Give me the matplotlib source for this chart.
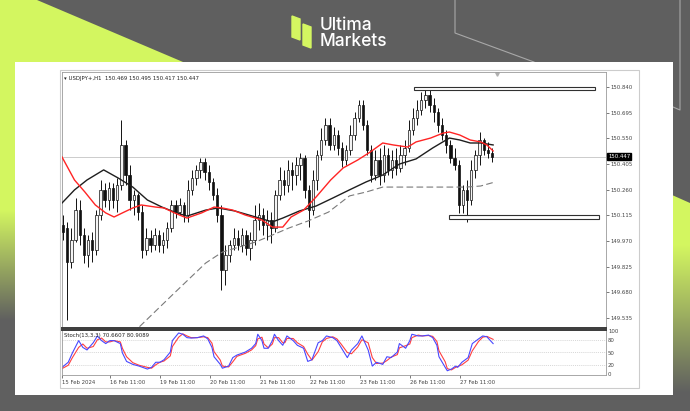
import numpy as np
import matplotlib
matplotlib.use("Agg")
import matplotlib.pyplot as plt
import matplotlib.transforms as mtrans
from matplotlib.patches import Polygon, Rectangle

opens = [150.061, 150.044, 149.852, 149.976, 150.145, 150.004, 149.891, 149.976, 149.919, 150.117,
         150.259, 150.202, 150.270, 150.202, 150.287, 150.513, 150.343, 150.202, 150.230, 150.134,
         149.919, 149.987, 149.948, 150.004, 149.948, 149.976, 150.044, 150.174, 150.134, 150.174,
         150.117, 150.259, 150.326, 150.372, 150.417, 150.360, 150.304, 150.230, 150.117, 149.806,
         149.891, 149.948, 149.987, 149.948, 150.004, 149.931, 149.976, 150.089, 150.117, 150.061,
         150.089, 150.044, 150.230, 150.315, 150.287, 150.372, 150.343, 150.400, 150.439, 150.259,
         150.145, 150.315, 150.456, 150.541, 150.626, 150.513, 150.569, 150.496, 150.428, 150.484,
         150.569, 150.665, 150.739, 150.626, 150.484, 150.343, 150.428, 150.343, 150.456, 150.372,
         150.428, 150.383, 150.456, 150.496, 150.597, 150.665, 150.711, 150.767, 150.795, 150.739,
         150.699, 150.626, 150.569, 150.513, 150.439, 150.400, 150.174, 150.259, 150.202, 150.372,
         150.456, 150.541, 150.484, 150.469]
highs = [150.117, 150.078, 150.044, 150.213, 150.202, 150.044, 150.004, 150.021, 150.145, 150.315,
         150.298, 150.304, 150.298, 150.326, 150.654, 150.541, 150.400, 150.259, 150.242, 150.174,
         150.044, 150.032, 150.044, 150.032, 150.021, 150.078, 150.202, 150.202, 150.213, 150.191,
         150.315, 150.372, 150.400, 150.439, 150.439, 150.400, 150.326, 150.270, 150.174, 149.948,
         149.976, 150.044, 150.032, 150.044, 150.032, 150.021, 150.174, 150.185, 150.157, 150.145,
         150.134, 150.259, 150.389, 150.372, 150.428, 150.417, 150.445, 150.467, 150.456, 150.287,
         150.372, 150.484, 150.609, 150.665, 150.665, 150.614, 150.597, 150.530, 150.513, 150.626,
         150.699, 150.767, 150.767, 150.654, 150.513, 150.484, 150.496, 150.513, 150.496, 150.484,
         150.496, 150.513, 150.541, 150.654, 150.722, 150.767, 150.812, 150.840, 150.824, 150.778,
         150.722, 150.665, 150.597, 150.541, 150.496, 150.428, 150.287, 150.315, 150.428, 150.484,
         150.586, 150.552, 150.530, 150.495]
lows = [149.976, 149.524, 149.818, 149.965, 149.948, 149.846, 149.823, 149.852, 149.891, 150.089,
        150.162, 150.145, 150.157, 150.134, 150.259, 150.287, 150.145, 150.117, 150.089, 149.874,
        149.891, 149.908, 149.919, 149.908, 149.902, 149.931, 150.021, 150.100, 150.117, 150.078,
        150.078, 150.230, 150.287, 150.326, 150.315, 150.259, 150.202, 150.078, 149.693, 149.722,
        149.852, 149.919, 149.919, 149.908, 149.891, 149.863, 149.948, 150.032, 150.004, 149.976,
        149.959, 150.021, 150.202, 150.230, 150.247, 150.259, 150.287, 150.315, 150.213, 150.049,
        150.117, 150.259, 150.428, 150.513, 150.484, 150.484, 150.456, 150.389, 150.400, 150.456,
        150.541, 150.643, 150.597, 150.456, 150.304, 150.315, 150.287, 150.304, 150.343, 150.326,
        150.343, 150.360, 150.400, 150.473, 150.569, 150.626, 150.682, 150.722, 150.699, 150.643,
        150.586, 150.541, 150.467, 150.411, 150.372, 150.129, 150.129, 150.078, 150.174, 150.326,
        150.400, 150.456, 150.439, 150.417]
closes = [150.021, 149.852, 149.976, 150.145, 150.004, 149.891, 149.976, 149.919, 150.117, 150.259,
          150.202, 150.270, 150.202, 150.287, 150.513, 150.343, 150.202, 150.230, 150.134, 149.919,
          149.987, 149.948, 150.004, 149.948, 149.976, 150.044, 150.174, 150.134, 150.174, 150.117,
          150.259, 150.326, 150.372, 150.417, 150.360, 150.304, 150.230, 150.117, 149.806, 149.891,
          149.948, 149.987, 149.948, 150.004, 149.931, 149.976, 150.089, 150.117, 150.061, 150.089,
          150.044, 150.230, 150.315, 150.287, 150.372, 150.343, 150.400, 150.439, 150.259, 150.145,
          150.315, 150.456, 150.541, 150.626, 150.513, 150.569, 150.496, 150.428, 150.484, 150.569,
          150.665, 150.739, 150.626, 150.484, 150.343, 150.428, 150.343, 150.456, 150.372, 150.428,
          150.383, 150.456, 150.496, 150.597, 150.665, 150.711, 150.767, 150.795, 150.739, 150.699,
          150.626, 150.569, 150.513, 150.439, 150.400, 150.174, 150.259, 150.202, 150.372, 150.456,
          150.541, 150.484, 150.469, 150.447]

# moving averages (bar hour, price)
ma_fast_h = [0, 6, 11, 16, 21, 25, 29, 34, 38, 45, 49, 54, 60, 67, 73, 77, 82, 88, 96, 101,
             106, 110, 116, 122, 129, 135, 142, 148, 154, 159, 166, 170, 177, 183, 186, 191, 196, 201, 204, 207]
ma_fast = [150.445, 150.315, 150.247, 150.174, 150.129, 150.106, 150.129, 150.157, 150.174, 150.162,
           150.157, 150.129, 150.100, 150.129, 150.162, 150.157, 150.145, 150.117, 150.089, 150.049,
           150.049, 150.106, 150.145, 150.219, 150.315, 150.383, 150.428, 150.473, 150.524, 150.513,
           150.501, 150.530, 150.552, 150.580, 150.586, 150.569, 150.541, 150.530, 150.513, 150.479]
ma_mid_h = [0, 6, 12, 20, 27, 34, 41, 48, 54, 60, 69, 75, 83, 93, 101, 106, 114, 122, 130, 138,
            146, 154, 162, 170, 178, 186, 191, 196, 201, 207]
ma_mid = [150.185, 150.259, 150.315, 150.372, 150.326, 150.275, 150.202, 150.162, 150.134, 150.111,
          150.145, 150.157, 150.140, 150.106, 150.078, 150.100, 150.140, 150.168, 150.213, 150.259,
          150.304, 150.343, 150.405, 150.434, 150.496, 150.552, 150.541, 150.524, 150.524, 150.513]
ma_slow_h = [33, 37, 53, 69, 77, 85, 93, 101, 109, 118, 128, 138, 146, 154, 162, 178, 194, 201, 208]
ma_slow = [149.460, 149.484, 149.666, 149.846, 149.908, 149.936, 149.965, 150.004, 150.044, 150.083,
           150.134, 150.225, 150.247, 150.275, 150.275, 150.275, 150.275, 150.281, 150.304]

# Stochastic(13,3,3)
stoch_h = [0, 3, 5, 8, 10, 12, 15, 17, 19, 21, 23, 25, 28, 29, 31, 34, 37, 41, 43, 45,
           47, 49, 52, 53, 56, 58, 60, 62, 65, 68, 70, 72, 73, 76, 77, 80, 82, 84, 88, 91,
           93, 94, 96, 97, 99, 101, 102, 104, 106, 107, 108, 111, 113, 116, 118, 120, 123, 125, 127, 130,
           132, 134, 137, 139, 142, 144, 147, 149, 151, 154, 156, 158, 161, 162, 165, 167, 168, 171, 173, 176,
           178, 180, 181, 184, 185, 187, 189, 190, 192, 195, 197, 200, 202, 204, 207]
stoch_main = [15, 27, 49, 78, 62, 56, 73, 89, 78, 71, 78, 78, 71, 49, 29, 22, 18, 11, 15, 27,
              27, 33, 51, 78, 96, 93, 85, 84, 85, 89, 82, 62, 40, 22, 13, 18, 38, 44, 51, 60,
              71, 93, 78, 60, 60, 78, 93, 78, 67, 78, 89, 78, 67, 60, 29, 33, 73, 78, 89, 85,
              78, 62, 38, 56, 71, 89, 56, 18, 27, 22, 40, 38, 51, 71, 60, 78, 93, 89, 89, 91,
              85, 67, 40, 15, 7, 11, 18, 15, 27, 38, 71, 82, 89, 87, 71]
stoch_signal = [12, 20, 38, 62, 70, 60, 64, 80, 84, 75, 75, 78, 75, 60, 40, 26, 20, 15, 13, 21,
                27, 30, 42, 64, 86, 94, 89, 85, 85, 87, 85, 72, 52, 32, 18, 16, 28, 41, 48, 56,
                66, 82, 86, 70, 61, 70, 85, 85, 73, 73, 83, 83, 73, 64, 46, 32, 52, 75, 83, 87,
                82, 70, 50, 47, 63, 80, 73, 38, 24, 25, 31, 39, 45, 61, 66, 70, 85, 91, 89, 90,
                88, 76, 54, 28, 12, 9, 15, 17, 21, 32, 54, 76, 86, 88, 81]

price_ticks = [149.535, 149.680, 149.825, 149.970, 150.115, 150.260, 150.405, 150.550, 150.695, 150.840]
day_ticks = [0, 23, 47, 71, 95, 119, 143, 167, 191]
day_labels = ["15 Feb 2024", "16 Feb 11:00", "19 Feb 11:00", "20 Feb 11:00", "21 Feb 11:00",
              "22 Feb 11:00", "23 Feb 11:00", "26 Feb 11:00", "27 Feb 11:00"]
last_price = 150.447
resistance = (169, 256, 150.826, 150.843)
support = (186, 258, 150.097, 150.120)

LIME = np.array([0.83, 0.965, 0.38])
GRAY = np.array([0.373, 0.373, 0.373])
W, H = 690, 411

fig = plt.figure(figsize=(6.9, 4.11), dpi=100)

# ---- branded background, drawn in pixel coordinates
bg = fig.add_axes([0, 0, 1, 1])
bg.set_xlim(0, W)
bg.set_ylim(H, 0)
bg.axis("off")
bg.add_patch(Rectangle((0, 0), W, H, color=GRAY, zorder=0))


def vgrad(solid_until, gray_from):
    t = np.clip((np.arange(H) - solid_until) / (gray_from - solid_until), 0, 1)
    cols = (1 - t)[:, None] * LIME + t[:, None] * GRAY
    return cols[:, None, :]


left_shape = Polygon([(0, 0), (37, 0), (183, 62), (15, 62), (15, H), (0, H)], closed=True,
                     transform=bg.transData)
im = bg.imshow(vgrad(210, 320), extent=[0, 200, H, 0], aspect="auto", zorder=1)
im.set_clip_path(left_shape)
right_shape = Polygon([(672, 195), (W, 203), (W, H), (672, H)], closed=True, transform=bg.transData)
im2 = bg.imshow(vgrad(245, 392), extent=[672, W, H, 0], aspect="auto", zorder=1)
im2.set_clip_path(right_shape)
bg.set_xlim(0, W)
bg.set_ylim(H, 0)

bg.plot([455, 455, 534], [0, 33, 62], color="#a8a8a8", lw=0.8, zorder=2)
bg.plot([680, 680, 673], [0, 110, 107], color="#a8a8a8", lw=0.8, zorder=2)

# logo
bg.add_patch(Polygon([(292, 16), (300, 19), (300, 40), (292, 37)], color=LIME, zorder=3))
bg.add_patch(Polygon([(303, 24), (311, 27), (311, 48), (303, 45)], color=LIME, zorder=3))
bg.text(320, 25, "Ultima", color="white", fontsize=12.5, family="Inter", weight="medium",
        va="center", ha="left", zorder=3)
bg.text(320, 41, "Markets", color="white", fontsize=12.5, family="Inter", weight="medium",
        va="center", ha="left", zorder=3)

# white card and terminal frame
bg.add_patch(Rectangle((15, 62), 658, 333, facecolor="white", edgecolor="none", zorder=3))
bg.add_patch(Rectangle((60, 70), 579, 318, facecolor="white", edgecolor="#cccccc", lw=0.8, zorder=4))

# ---- price panel
ax = fig.add_axes([62 / W, (H - 328) / H, 544 / W, 256 / H])
ax.patch.set_visible(False)
xs = np.arange(len(closes)) * 2 + 0.5
o = np.array(opens)
c = np.array(closes)
ax.axhline(last_price, color="#c4c4c4", lw=0.6, zorder=1)
ax.vlines(xs, lows, highs, color="#111111", lw=0.7, zorder=2)
fills = ["#f4f4f4" if cc >= oo else "#111111" for oo, cc in zip(o, c)]
ax.bar(xs, np.maximum(np.abs(c - o), 0.004), bottom=np.minimum(o, c), width=1.15,
       color=fills, edgecolor="#111111", linewidth=0.5, zorder=3)
ax.plot(ma_slow_h, ma_slow, color="#7a7a7a", lw=0.8, dashes=(6, 3), zorder=4)
ax.plot(ma_mid_h, ma_mid, color="#1e1e1e", lw=1.0, zorder=5)
ax.plot(ma_fast_h, ma_fast, color="#ff2424", lw=1.0, zorder=6)

for x0, x1, y0, y1 in (resistance, support):
    ax.add_patch(Rectangle((x0, y0), x1 - x0, y1 - y0, facecolor="white", edgecolor="#303030",
                           lw=0.8, zorder=7))

ax.set_xlim(0, 261.2)
ax.set_ylim(149.479, 150.925)
ax.set_xticks([])
ax.yaxis.tick_right()
ax.set_yticks(price_ticks)
ax.set_yticklabels(["%.3f" % p for p in price_ticks])
ax.tick_params(axis="y", length=2, width=0.5, pad=1.5, labelsize=3.9, colors="#444444")
for s in ("left", "top", "right"):
    ax.spines[s].set_color("#9a9a9a")
    ax.spines[s].set_linewidth(0.6)
ax.spines["bottom"].set_color("#3a3a3a")
ax.spines["bottom"].set_linewidth(1.4)

ax.text(0.004, 0.985, "\u25be USDJPY+,H1  150.469 150.495 150.417 150.447", transform=ax.transAxes,
        fontsize=3.9, va="top", ha="left", color="#222222")
tr = mtrans.blended_transform_factory(ax.transAxes, ax.transData)
ax.text(1.004, last_price, "150.447", transform=tr, fontsize=3.9, color="white", va="center",
        ha="left", bbox=dict(boxstyle="square,pad=0.15", fc="black", ec="black"))
ax.plot([0.80], [0.993], marker="v", ms=2.5, color="#b0b0b0", transform=ax.transAxes, clip_on=False)

# ---- stochastic panel
sx = fig.add_axes([62 / W, (H - 375) / H, 544 / W, 45 / H])
sx.patch.set_visible(False)
for lvl in (20, 50, 80):
    sx.axhline(lvl, color="#c8c8c8", lw=0.5, ls=(0, (1.5, 1.5)))
sx.plot(stoch_h, stoch_signal, color="#ff4040", lw=0.8)
sx.plot(stoch_h, stoch_main, color="#4848ff", lw=0.8)
sx.set_xlim(0, 261.2)
sx.set_ylim(-3, 103)
sx.yaxis.tick_right()
sx.set_yticks([0, 20, 50, 80, 100])
sx.set_yticklabels(["0", "20", "50", "80", "100"])
sx.tick_params(axis="y", length=0, pad=1.5, labelsize=3.9, colors="#444444")
sx.set_xticks(day_ticks)
sx.set_xticklabels(day_labels)
sx.tick_params(axis="x", length=2, width=0.5, pad=1.5, labelsize=3.9, colors="#444444")
plt.setp(sx.get_xticklabels(), ha="left")
for s in ("left", "bottom", "right"):
    sx.spines[s].set_color("#9a9a9a")
    sx.spines[s].set_linewidth(0.6)
sx.spines["top"].set_color("#3a3a3a")
sx.spines["top"].set_linewidth(1.4)
sx.text(0.004, 0.93, "Stoch(13,3,3) 70.6607 80.9089", transform=sx.transAxes, fontsize=3.9,
        va="top", ha="left", color="#222222")

fig.savefig("out.png", dpi=100)
